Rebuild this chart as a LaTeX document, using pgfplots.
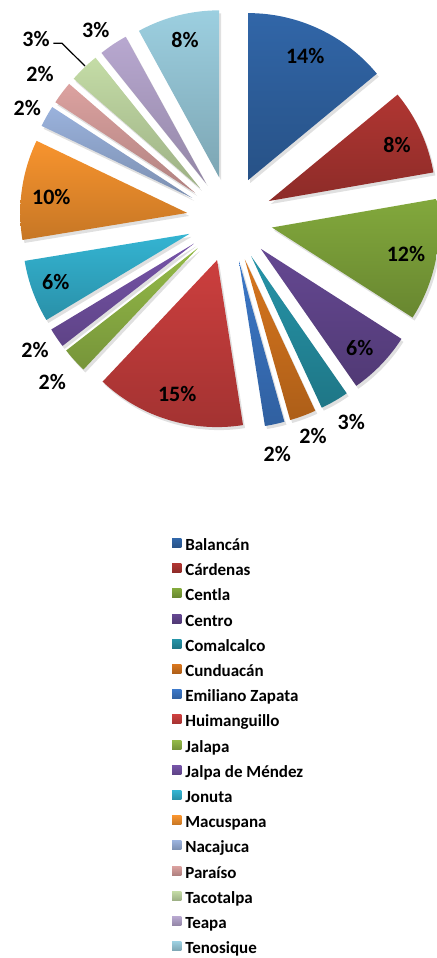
\documentclass[border=0pt]{standalone}
\usepackage{pgfplots}
\pgfplotsset{compat=1.18}
\usepackage{pgfplotstable}
\usepackage{fontspec}
\setmainfont{Carlito}

\pgfplotstableread[col sep=comma]{
name,value,lab,lx,ly
Balancán,14.0,14,305.2,56.5
Cárdenas,8.25,8,397,145
Centla,11.8,12,406,254
Centro,6.25,6,359.8,348.3
Comalcalco,2.75,3,351.3,421.7
Cunduacán,2.55,2,313,436.3
Emiliano Zapata,1.9,2,277.3,453.7
Huimanguillo,14.5,15,177.2,394.2
Jalapa,2.45,2,52.3,382
Jalpa de Méndez,1.9,2,35,350
Jonuta,6.03,6,55.7,281.7
Macuspana,9.69,10,51.3,196.7
Nacajuca,2.06,2,27.3,108.3
Paraíso,2.19,2,40,73.7
Tacotalpa,2.89,3,36,38.7
Teapa,2.78,3,95.8,30
Tenosique,7.97,8,185,40
}\data

\newcommand\defslicecolor[2]{%
  \definecolor{ct#1}{HTML}{#2}%
  \colorlet{cb#1}{ct#1!80!black}}
\defslicecolor{0}{3166A8}
\defslicecolor{1}{B03632}
\defslicecolor{2}{82A83C}
\defslicecolor{3}{654892}
\defslicecolor{4}{2694A8}
\defslicecolor{5}{D8761E}
\defslicecolor{6}{3C78C8}
\defslicecolor{7}{CC3F3E}
\defslicecolor{8}{94BA48}
\defslicecolor{9}{7654A8}
\defslicecolor{10}{34B4D2}
\defslicecolor{11}{F8942E}
\defslicecolor{12}{9AB2DC}
\defslicecolor{13}{DCA2A0}
\defslicecolor{14}{C4DCA6}
\defslicecolor{15}{B8A8D0}
\defslicecolor{16}{9CCFE0}

\def\total{0}
\pgfplotstableforeachcolumnelement{value}\of\data\as\cell{%
  \pgfmathparse{\total+\cell}\xdef\total{\pgfmathresult}}

\def\cx{229.8}
\def\cy{219}
\def\R{167}
\def\D{43}
\newcommand\lbl{\bfseries\fontsize{11}{13}\selectfont}

\begin{document}
\begin{tikzpicture}
\begin{axis}[
  x=0.5pt, y=0.5pt, y dir=reverse,
  xmin=0, xmax=436, ymin=0, ymax=958,
  enlargelimits=false, hide axis, clip=false,
  legend cell align=left,
  legend image code/.code={\fill[#1] (0pt,-0.2pt) rectangle (4.6pt,4.3pt); \path (6.6pt,0pt);},
  legend style={at={(axis cs:171.7,534)}, anchor=north west, draw=none, fill=none,
    inner sep=0pt, row sep=0pt, column sep=0pt,
    font=\bfseries\fontsize{8.5}{10}\selectfont,
    nodes={inner sep=0pt, text height=8pt, text depth=4.6pt}},
]
\coordinate (bbA) at (axis cs:0,0);
\coordinate (bbB) at (axis cs:436,958);
% shadows
\def\cum{0}
\pgfplotsforeachungrouped \i in {0,...,16}{%
  \pgfplotstablegetelem{\i}{value}\of\data \let\val\pgfplotsretval
  \pgfmathsetmacro\angA{\cum/\total*360}%
  \pgfmathsetmacro\cumnew{\cum+\val}\let\cum\cumnew
  \pgfmathsetmacro\angB{\cum/\total*360}%
  \pgfmathsetmacro\angM{(\angA+\angB)/2}%
  \pgfmathsetmacro\px{\cx+\D*sin(\angM)+2}%
  \pgfmathsetmacro\py{\cy-\D*cos(\angM)+3}%
  \edef\temp{%
    \noexpand\addplot[draw=none, fill=black, fill opacity=0.12, forget plot,
      domain=\angA:\angB, samples=50]
      ({\px+\R*sin(x)},{\py-\R*cos(x)}) -- (axis cs:\px,\py) -- cycle;
  }\temp
}
% slices
\def\cum{0}
\pgfplotsforeachungrouped \i in {0,...,16}{%
  \pgfplotstablegetelem{\i}{value}\of\data \let\val\pgfplotsretval
  \pgfplotstablegetelem{\i}{name}\of\data \let\nm\pgfplotsretval
  \pgfplotstablegetelem{\i}{lab}\of\data \let\lab\pgfplotsretval
  \pgfplotstablegetelem{\i}{lx}\of\data \let\lx\pgfplotsretval
  \pgfplotstablegetelem{\i}{ly}\of\data \let\ly\pgfplotsretval
  \pgfmathsetmacro\angA{\cum/\total*360}%
  \pgfmathsetmacro\cumnew{\cum+\val}\let\cum\cumnew
  \pgfmathsetmacro\angB{\cum/\total*360}%
  \pgfmathsetmacro\angM{(\angA+\angB)/2}%
  \pgfmathsetmacro\px{\cx+\D*sin(\angM)}%
  \pgfmathsetmacro\py{\cy-\D*cos(\angM)}%
  \edef\temp{%
    \noexpand\addplot[draw=none, top color=ct\i, bottom color=cb\i,
      domain=\angA:\angB, samples=60]
      ({\px+\R*sin(x)},{\py-\R*cos(x)}) -- (axis cs:\px,\py) -- cycle;
    \noexpand\addlegendentry{\nm}
    \noexpand\node[font=\noexpand\lbl, inner sep=0pt] at (axis cs:\lx,\ly) {\lab\noexpand\%};
  }\temp
}
\draw[black, line width=0.6pt] (axis cs:53.3,43.3) -- (axis cs:62,43.3) -- (axis cs:85,66);
\end{axis}
\pgfresetboundingbox
\path[use as bounding box] (bbA) rectangle (bbB);
\end{tikzpicture}
\end{document}
